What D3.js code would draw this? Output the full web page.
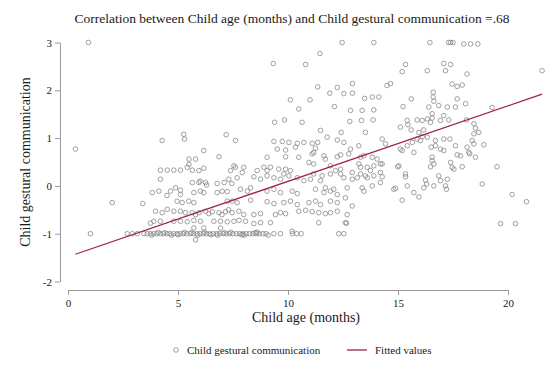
<!DOCTYPE html>
<html>
<head>
<meta charset="utf-8">
<script src="https://cdn.jsdelivr.net/npm/d3@7"></script>
<style>
body { margin: 0; background: #fff; }
text { font-family: "Liberation Serif", "DejaVu Serif", serif; fill: #1a1a1a; }
</style>
</head>
<body>
<div id="chart"></div>
<script>
// [age in months, gestural communication score]
var points = [
    [0.34, 0.77], [0.93, 3], [1.02, -1], [2.01, -0.35], [2.69, -1], [2.92, -1], [3.15, -1], [3.4, -0.37],
    // upper band
    [12.46, 3], [13.9, 3], [16.45, 3], [17.3, 3], [17.39, 3], [17.5, 3], [17.99, 2.97], [18.3, 2.97], [18.63, 2.97],
    [11.45, 2.77], [9.33, 2.56], [10.8, 2.54], [15.34, 2.54], [15.19, 2.39], [16.33, 2.41], [17.08, 2.56],
    [17.39, 2.54], [17.16, 2.41], [18.14, 2.34], [21.55, 2.41],
    [11.35, 2.07], [12.24, 2.06], [11.9, 1.94], [12.54, 1.93], [12.93, 1.94], [12.93, 2.14], [13.48, 1.83],
    [13.83, 1.86], [14.13, 1.86], [14.5, 2.1], [14.66, 2.14], [17.46, 2.13], [17.69, 2.08], [17.92, 2.11],
    [16.6, 1.96], [16.6, 1.86], [16.63, 1.77], [15.6, 1.82], [17.69, 1.82],
    [10.11, 1.8], [11.0, 1.8], [10.49, 1.61], [12.11, 1.66], [12.84, 1.58], [13.37, 1.58], [13.9, 1.59], [15.23, 1.66],
    [16.4, 1.65], [16.85, 1.68], [17.24, 1.65], [17.61, 1.65], [18.07, 1.72], [19.28, 1.64], [16.55, 1.51],
    [9.39, 1.33], [9.84, 1.38], [10.64, 1.33], [12.81, 1.35], [13.34, 1.37], [13.87, 1.38], [15.45, 1.28],
    [15.42, 1.37], [16.1, 1.37], [16.33, 1.4], [16.55, 1.42], [16.93, 1.37], [17.31, 1.38], [17.08, 1.47],
    [18.11, 1.38], [15.87, 1.38], [16.48, 1.33], [18.45, 1.3],
    [15.11, 1.23], [15.6, 1.17], [16.17, 1.17], [18.52, 1.21], [18.67, 1.12], [15.95, 1.12], [18.45, 1.09],
    [11.48, 1.16], [12.42, 1.12], [13.52, 1.12], [11.78, 1.02],
    // around 1
    [4.28, 0.95], [5.26, 1.08], [5.3, 0.98], [7.19, 1.07], [7.61, 0.95],
    [9.36, 0.93], [9.74, 0.93], [10.04, 0.91], [10.42, 0.89], [10.72, 0.91], [11.1, 0.89], [11.35, 0.91],
    [12.24, 0.96], [12.54, 0.91], [14.28, 0.98], [14.43, 0.88],
    [16.1, 1.03], [15.87, 0.98], [17.08, 0.98], [17.36, 0.98], [18.37, 0.95], [18.9, 0.86], [16.02, 0.95],
    [16.33, 1.02], [16.7, 0.95], [18.14, 0.81], [18.45, 0.88],
    [9.51, 0.77], [9.89, 0.75], [10.34, 0.81], [11.25, 0.79], [11.17, 0.7], [12.84, 0.77], [13.22, 0.84],
    [15.11, 0.77], [15.42, 0.84], [15.65, 0.91],
    [16.51, 0.81], [16.7, 0.84], [16.93, 0.77], [17.08, 0.74], [17.61, 0.84], [18.22, 0.7], [18.52, 0.6],
    [17.84, 0.63], [16.55, 0.6], [6.17, 0.74],
    // around 0.5
    [5.5, 0.56], [5.8, 0.56], [6.86, 0.61],
    [9.05, 0.6], [9.89, 0.61], [10.49, 0.6], [11.63, 0.63], [12.24, 0.61], [13.83, 0.6],
    [15.19, 0.74], [15.72, 0.7], [16.55, 0.53], [16.63, 0.46], [16.48, 0.4], [17.39, 0.49], [17.46, 0.39],
    [17.69, 0.65], [17.92, 0.4], [18.26, 0.67], [19.5, 0.4], [14.99, 0.4],
    [10.95, 0.49], [11.17, 0.46], [11.7, 0.56], [12.39, 0.65], [12.76, 0.67], [11.93, 0.42], [12.39, 0.35],
    [13.22, 0.46], [13.6, 0.39], [13.9, 0.42], [14.28, 0.46], [13.45, 0.63], [15.04, 0.42],
    [11.1, 0.67], [13.3, 0.6], [14.05, 0.56], [14.2, 0.46], [17.54, 0.35],
    // around 0.33
    [4.2, 0.33], [4.51, 0.33], [4.81, 0.33], [5.11, 0.33], [5.42, 0.39], [5.5, 0.45], [5.65, 0.33],
    [5.95, 0.32], [6.17, 0.37], [7.39, 0.32], [7.61, 0.39], [7.92, 0.28], [8.6, 0.32], [9.05, 0.32],
    [7.54, 0.42], [7.99, 0.39], [8.9, 0.39], [9.2, 0.39], [9.58, 0.35], [9.89, 0.35],
    [9.81, 0.25], [10.11, 0.32], [11.17, 0.25], [11.55, 0.21], [11.93, 0.25], [12.39, 0.25], [12.92, 0.28],
    [13.3, 0.25], [13.52, 0.21], [13.3, 0.39], [13.75, 0.32], [14.2, 0.28],
    // around 0.1
    [4.2, 0.14], [7.31, 0.14], [5.65, 0.07], [5.95, 0.07], [6.0, 0.1], [6.25, 0.07], [6.3, 0.02],
    [6.78, 0.05], [7.1, 0.07], [7.45, 0.05],
    [7.69, 0.17], [8.45, 0.19], [8.75, 0.14], [9.05, 0.21], [9.36, 0.17], [9.66, 0.14], [10.04, 0.21],
    [10.42, 0.17], [10.72, 0.11], [11.02, 0.14], [11.48, 0.11], [12.16, 0.32], [12.54, 0.17], [12.92, 0.14],
    [13.15, 0.17], [13.6, 0.17], [13.9, 0.21], [14.28, 0.19],
    [15.34, 0.25], [15.34, 0.19], [16.25, 0.12], [16.3, 0.04], [16.85, 0.21], [16.93, 0.11], [17.16, 0],
    [17.2, -0.07], [14.81, -0.07], [15.42, 0], [16.17, -0.04], [18.83, 0.04], [17.24, 0.14], [16.63, 0],
    [11.7, -0.04], [12.08, -0.07], [12.69, -0.04], [13.83, 0], [14.2, 0.07], [13.37, -0.04], [13.45, -0.11],
    [14.89, -0.05],
    // around -0.15
    [3.83, -0.14], [4.13, -0.11], [4.5, -0.2], [4.66, -0.11], [4.89, -0.04], [5.11, -0.09], [5.11, -0.18],
    [5.72, -0.14], [6.02, -0.11], [6.17, -0.14], [6.78, -0.14], [7.01, -0.11], [7.24, -0.12],
    [7.84, -0.07], [8.15, -0.11], [8.3, -0.04], [9.05, -0.11], [9.36, -0.07], [9.66, -0.14], [10.19, -0.11],
    [10.42, -0.16], [11.25, -0.07], [11.63, -0.14], [11.93, -0.11], [12.24, -0.18], [12.61, -0.25],
    [15.72, -0.14], [15.19, -0.3], [15.95, -0.23], [20.19, -0.18], [20.84, -0.33],
    // around -0.35
    [4.96, -0.32], [5.19, -0.35], [5.49, -0.32], [5.72, -0.35], [7.24, -0.32], [7.46, -0.32], [7.69, -0.35],
    [8.3, -0.3], [9.05, -0.33], [9.36, -0.37], [9.81, -0.35], [10.11, -0.32], [10.42, -0.39], [10.95, -0.35],
    [11.25, -0.32], [11.48, -0.39], [11.93, -0.32], [12.24, -0.35], [12.92, -0.42],
    // around -0.55
    [3.98, -0.53], [4.28, -0.56], [4.51, -0.49], [4.81, -0.53], [5.11, -0.53], [5.34, -0.56], [5.65, -0.56],
    [5.8, -0.6], [5.95, -0.56], [6.25, -0.53], [6.4, -0.58], [6.56, -0.54], [6.86, -0.56], [7.0, -0.6],
    [7.16, -0.54], [7.3, -0.5], [7.46, -0.56], [7.77, -0.53], [7.99, -0.6], [8.45, -0.6], [8.75, -0.58],
    [9.43, -0.6], [9.66, -0.56], [9.89, -0.58], [10.49, -0.53], [10.8, -0.51], [11.1, -0.54], [11.4, -0.56],
    [11.7, -0.58], [11.93, -0.56], [12.24, -0.53], [12.69, -0.6],
    // around -0.75
    [3.75, -0.78], [3.9, -0.74], [4.2, -0.74], [4.81, -0.74], [5.11, -0.74], [5.42, -0.75], [5.72, -0.72],
    [6.02, -0.74], [6.63, -0.74], [6.93, -0.74], [7.24, -0.75], [7.54, -0.74], [7.77, -0.72], [8.07, -0.74],
    [8.45, -0.79], [8.75, -0.77], [9.2, -0.77], [11.4, -0.77], [12.61, -0.77], [12.66, -0.78],
    [19.66, -0.79], [20.34, -0.79],
    [5.72, -0.88], [6.17, -0.88], [6.93, -0.88], [10.19, -0.95],
    // dense band at -1
    [3.45, -1], [3.6, -1], [3.74, -1], [3.9, -1], [4.04, -1], [4.2, -1], [4.33, -1], [4.5, -1], [4.64, -1],
    [4.8, -1], [4.96, -1], [5.1, -1], [5.24, -1], [5.4, -1], [5.56, -1], [5.7, -1], [5.86, -1], [6.0, -1],
    [6.15, -1], [6.3, -1], [6.44, -1], [6.6, -1], [6.76, -1], [6.9, -1], [7.05, -1], [7.2, -1], [7.34, -1],
    [7.5, -1], [7.66, -1], [7.8, -1], [7.96, -1], [8.1, -1], [8.25, -1], [8.4, -1], [8.56, -1], [8.7, -1],
    [8.86, -1], [9.0, -1], [4.4, -0.98], [5.0, -1.02], [5.6, -0.98], [6.5, -1.02], [7.1, -0.98], [7.9, -1.02],
    [8.5, -0.98], [3.8, -1.03], [4.1, -0.97], [4.7, -1.03], [5.3, -0.97], [5.9, -1.03], [6.2, -0.97],
    [6.8, -1.03], [7.4, -0.97], [8.0, -1.03], [8.6, -0.97], [9.1, -1.03],
    [9.36, -1], [9.66, -1], [10.2, -1], [10.4, -1], [10.6, -1], [12.31, -1], [12.54, -1],
    [5.8, -1.13]
];

// fitted values at the youngest and oldest ages
var fitAges = [0.34, 21.55];
var fitValues = [-1.43, 1.92];

var xTicks = [0, 5, 10, 15, 20];
var yTicks = [-2, -1, 0, 1, 2, 3];
var titleText = 'Correlation between Child age (months) and Child gestural communication =.68';
var xTitle = 'Child age (months)';
var yTitle = 'Child gestural communication';
var legendLabels = ['Child gestural communication', 'Fitted values'];

var markerColor = '#888888';
var fitColor = '#9e2445';

var svg = d3.select('#chart').append('svg')
    .attr('width', 555)
    .attr('height', 365);

var xScale = d3.scaleLinear().domain([0, 20]).range([68, 508]);
var yScale = d3.scaleLinear().domain([-2, 3]).range([281.5, 42.5]);

// axes
var xAxis = d3.axisBottom(xScale).tickValues(xTicks).tickSize(5).tickSizeOuter(0).tickPadding(4)
    .tickFormat(function (d) { return String(d); });
var yAxis = d3.axisLeft(yScale).tickValues(yTicks).tickSize(5).tickSizeOuter(0).tickPadding(3)
    .tickFormat(function (d) { return String(d); });

var gx = svg.append('g')
    .attr('class', 'x-axis')
    .attr('transform', 'translate(0, 290)')
    .call(xAxis);

var gy = svg.append('g')
    .attr('class', 'y-axis')
    .attr('transform', 'translate(60, 0)')
    .call(yAxis);

[gx, gy].forEach(function (g) {
    g.select('.domain').attr('stroke', '#9a9a9a').attr('stroke-width', 1);
    g.selectAll('.tick line').attr('stroke', '#9a9a9a');
    g.selectAll('.tick text')
        .style('font-family', '"Liberation Serif", serif')
        .style('font-size', '11px')
        .attr('fill', '#1a1a1a');
});

svg.append('g')
    .selectAll('circle')
    .data(points)
    .enter()
    .append('circle')
    .attr('cx', function (d) { return xScale(d[0]); })
    .attr('cy', function (d) { return yScale(d[1]); })
    .attr('r', 2.3)
    .attr('fill', 'none')
    .attr('stroke', markerColor)
    .attr('stroke-width', 0.8);

var line = d3.line()
    .x(function (d) { return xScale(d[0]); })
    .y(function (d) { return yScale(d[1]); });

svg.append('path')
    .datum(d3.zip(fitAges, fitValues))
    .attr('d', line)
    .attr('fill', 'none')
    .attr('stroke', fitColor)
    .attr('stroke-width', 1.3);

// titles
svg.append('text')
    .attr('x', 292)
    .attr('y', 23)
    .attr('text-anchor', 'middle')
    .style('font-size', '13.5px')
    .text(titleText);

svg.append('text')
    .attr('x', 306)
    .attr('y', 322)
    .attr('text-anchor', 'middle')
    .style('font-size', '14px')
    .text(xTitle);

svg.append('text')
    .attr('transform', 'translate(30, 162) rotate(-90)')
    .attr('text-anchor', 'middle')
    .style('font-size', '14px')
    .text(yTitle);

// legend
var legend = svg.append('g').attr('class', 'legend');
legend.append('circle')
    .attr('cx', 176)
    .attr('cy', 350)
    .attr('r', 2.3)
    .attr('fill', 'none')
    .attr('stroke', markerColor)
    .attr('stroke-width', 0.8);
legend.append('text')
    .attr('x', 187)
    .attr('y', 354)
    .style('font-size', '11px')
    .text(legendLabels[0]);
legend.append('line')
    .attr('x1', 347).attr('x2', 367)
    .attr('y1', 350).attr('y2', 350)
    .attr('stroke', fitColor)
    .attr('stroke-width', 1.3);
legend.append('text')
    .attr('x', 375)
    .attr('y', 354)
    .style('font-size', '11px')
    .text(legendLabels[1]);
</script>
</body>
</html>
